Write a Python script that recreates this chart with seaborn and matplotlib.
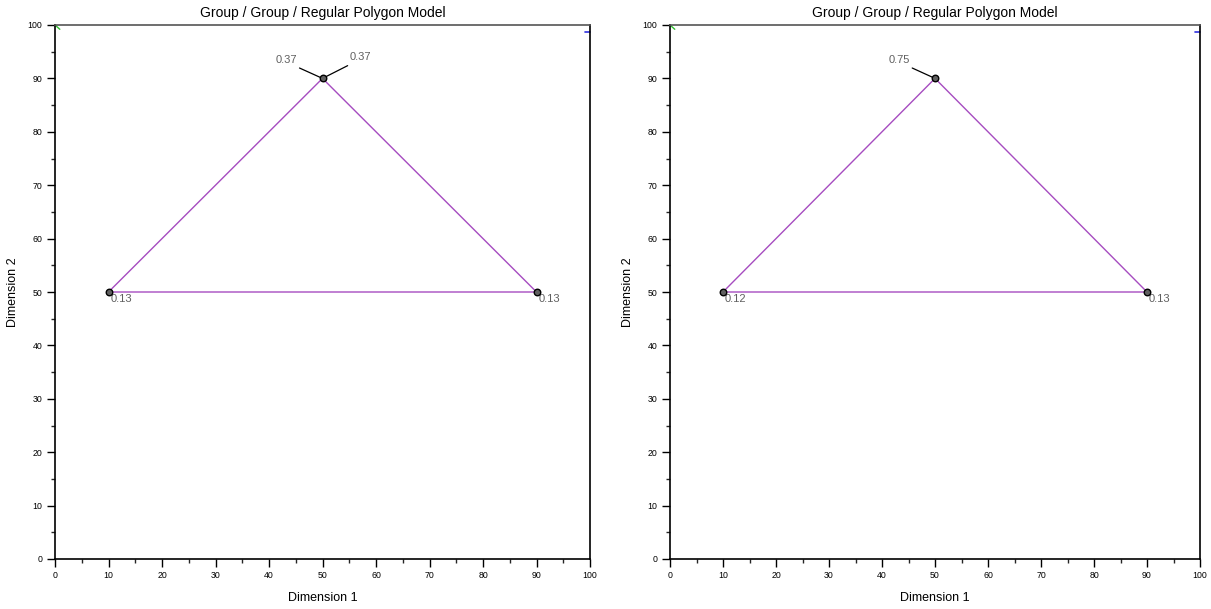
import matplotlib
matplotlib.use("Agg")
import matplotlib.pyplot as plt
import seaborn as sns
import pandas as pd

sns.set_theme(style="ticks")
plt.rcParams['font.family'] = ['Liberation Sans', 'DejaVu Sans']
plt.rcParams['text.color'] = 'black'
plt.rcParams['axes.labelcolor'] = 'black'

# Data
vertex_x = [10, 50, 90]
vertex_y = [50, 90, 50]
left_labels = ["0.13", "0.37", "0.13"]
right_labels = ["0.12", "0.75", "0.13"]
title = "Group / Group / Regular Polygon Model"
tick_values = list(range(0, 101, 10))

fig = plt.figure(figsize=(12.11, 6.09), dpi=100)
ax1 = fig.add_axes([55/1211, 50/609, 535/1211, 534/609])
ax2 = fig.add_axes([670/1211, 50/609, 530/1211, 534/609])

line_color = "#a64cc0"
text_color = "#606060"


def draw(ax, labels, apex_mode):
    loop = pd.DataFrame({"x": vertex_x + [vertex_x[0]], "y": vertex_y + [vertex_y[0]]})
    sns.lineplot(data=loop, x="x", y="y", sort=False, estimator=None, ax=ax,
                 color=line_color, lw=1.0)
    pts = pd.DataFrame({"x": vertex_x, "y": vertex_y})
    sns.scatterplot(data=pts, x="x", y="y", ax=ax, color="#606060", edgecolor="black",
                    s=22, linewidth=1.0, zorder=5)
    # base labels
    for i in (0, 2):
        ax.text(vertex_x[i] + 0.4, vertex_y[i] - 0.4, labels[i], ha="left", va="top",
                fontsize=8, color=text_color)
    # apex labels
    ax.annotate(labels[1], xy=(vertex_x[1], vertex_y[1]), xytext=(45.3, 92.6),
                ha="right", va="bottom", fontsize=8, color=text_color,
                arrowprops=dict(arrowstyle="-", color="black", lw=0.9, shrinkA=0, shrinkB=0,
                                relpos=(1.1, -0.35)))
    if apex_mode == 2:
        ax.annotate(labels[1], xy=(vertex_x[1], vertex_y[1]), xytext=(55.0, 93.0),
                    ha="left", va="bottom", fontsize=8, color=text_color,
                    arrowprops=dict(arrowstyle="-", color="black", lw=0.9, shrinkA=0, shrinkB=0,
                                    relpos=(-0.05, -0.3)))
    # small corner marks
    ax.plot([0, 0.9], [100, 99.2], color="#30c030", lw=1, clip_on=False)
    ax.plot([99.0, 100], [98.6, 98.6], color="#3030e0", lw=1.2, clip_on=False)

    ax.set_xlim(0, 100)
    ax.set_ylim(0, 100)
    ax.set_xticks(tick_values)
    ax.set_yticks(tick_values)
    ax.set_xticks(range(5, 100, 10), minor=True)
    ax.set_yticks(range(5, 100, 10), minor=True)
    ax.tick_params(axis="both", which="major", labelsize=6.3, length=6, width=1,
                   direction="out", colors="black", pad=3)
    ax.tick_params(axis="both", which="minor", length=3, width=1, direction="out")
    ax.set_xlabel("Dimension 1", fontsize=9, color="black", labelpad=8)
    ax.set_ylabel("Dimension 2", fontsize=9, labelpad=6, color="black")
    ax.set_title(title, fontsize=10, pad=6, color="black")
    for s in ax.spines.values():
        s.set_linewidth(1.2)
        s.set_color("black")
    ax.spines["top"].set_color("#555555")


draw(ax1, left_labels, 2)
draw(ax2, right_labels, 1)

fig.savefig("out.png", dpi=100)
